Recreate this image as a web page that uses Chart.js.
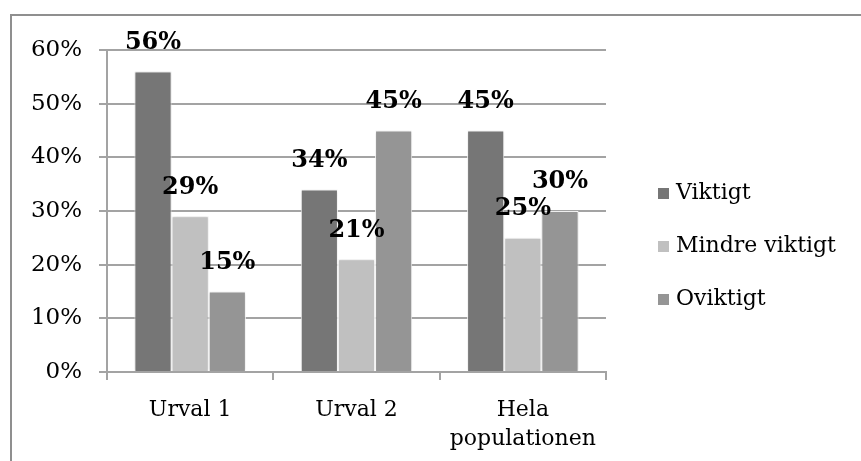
<!DOCTYPE html>
<html>
<head>
<meta charset="utf-8">
<script src="https://cdn.jsdelivr.net/npm/chart.js@4/dist/chart.umd.min.js"></script>
<style>
  html, body { margin: 0; padding: 0; background: #ffffff; }
  #wrap { position: relative; width: 861px; height: 461px; }
  #frame { position: absolute; left: 10px; top: 14px; right: -4px; bottom: -4px;
           border-left: 2px solid #8f8f8f; border-top: 2px solid #8f8f8f; }
  canvas { position: absolute; left: 0; top: 0; }
</style>
</head>
<body>
<div id="wrap">
  <div id="frame"></div>
  <canvas id="c" width="861" height="461"></canvas>
</div>
<script>
// Groups along the x axis
const categories = ['Urval 1', 'Urval 2', ['Hela', 'populationen']];
// Share of answers per group (percent)
const viktigt = [56, 34, 45];
const mindreViktigt = [29, 21, 25];
const oviktigt = [15, 45, 30];
const seriesNames = ['Viktigt', 'Mindre viktigt', 'Oviktigt'];
const yTicks = [0, 10, 20, 30, 40, 50, 60];

const colors = ['#767676', '#c0c0c0', '#959595'];
const serif = "'DejaVu Serif', 'Liberation Serif', serif";

// Bold value labels above each bar
const valueLabels = {
  id: 'valueLabels',
  afterDatasetsDraw(chart) {
    const ctx = chart.ctx;
    ctx.save();
    ctx.font = 'bold 24px ' + serif;
    ctx.fillStyle = '#000000';
    ctx.textAlign = 'center';
    ctx.textBaseline = 'middle';
    chart.data.datasets.forEach((ds, i) => {
      chart.getDatasetMeta(i).data.forEach((bar, j) => {
        ctx.fillText(ds.data[j] + '%', bar.x, bar.y - 29);
      });
    });
    ctx.restore();
  }
};

// Soft shadow behind the bars
const barShadow = {
  id: 'barShadow',
  beforeDatasetsDraw(chart) {
    const ctx = chart.ctx;
    ctx.save();
    ctx.shadowColor = 'rgba(0,0,0,0.18)';
    ctx.shadowBlur = 3;
    ctx.shadowOffsetX = 0;
    ctx.shadowOffsetY = 0;
  },
  afterDatasetsDraw(chart) {
    chart.ctx.restore();
  }
};

// Legend to the right of the plot
const sideLegend = {
  id: 'sideLegend',
  afterDraw(chart) {
    const ctx = chart.ctx;
    const area = chart.chartArea;
    ctx.save();
    ctx.font = '22px ' + serif;
    ctx.textBaseline = 'middle';
    ctx.textAlign = 'left';
    chart.data.datasets.forEach((ds, i) => {
      const y = area.top + 143 + i * 53;
      const x = area.right + 52;
      ctx.fillStyle = ds.backgroundColor;
      ctx.fillRect(x, y - 5, 11, 11);
      ctx.fillStyle = '#000000';
      ctx.fillText(ds.label, x + 18, y);
    });
    ctx.restore();
  }
};

new Chart(document.getElementById('c'), {
  type: 'bar',
  data: {
    labels: categories,
    datasets: [
      { label: seriesNames[0], data: viktigt, backgroundColor: colors[0] },
      { label: seriesNames[1], data: mindreViktigt, backgroundColor: colors[1] },
      { label: seriesNames[2], data: oviktigt, backgroundColor: colors[2] }
    ].map(d => Object.assign(d, {
      borderColor: '#ffffff', borderWidth: 1,
      categoryPercentage: 0.67, barPercentage: 1.0
    }))
  },
  options: {
    responsive: false,
    animation: false,
    devicePixelRatio: 1,
    layout: { padding: { top: 50, right: 255, bottom: 0, left: 0 } },
    plugins: { legend: { display: false }, tooltip: { enabled: false } },
    scales: {
      x: {
        offset: true,
        grid: { display: true, drawOnChartArea: false, drawTicks: true, tickLength: 8,
                color: '#a3a3a3', lineWidth: 2, offset: true },
        border: { display: true, color: '#a3a3a3', width: 2 },
        ticks: { color: '#000000', font: { family: serif, size: 22, lineHeight: 1.3 }, padding: 16,
                 maxRotation: 0, autoSkip: false },
        afterFit(scale) { scale.height = 89; }
      },
      y: {
        min: 0, max: 60,
        afterBuildTicks(scale) { scale.ticks = yTicks.map(v => ({ value: v })); },
        grid: { color: '#a3a3a3', lineWidth: 2, tickLength: 8 },
        border: { display: true, color: '#a3a3a3', width: 2 },
        ticks: { color: '#000000', font: { family: serif, size: 23 }, padding: 17,
                 callback: v => v + '%' },
        afterFit(scale) { scale.width = 107; }
      }
    }
  },
  plugins: [barShadow, valueLabels, sideLegend]
});
</script>
</body>
</html>
